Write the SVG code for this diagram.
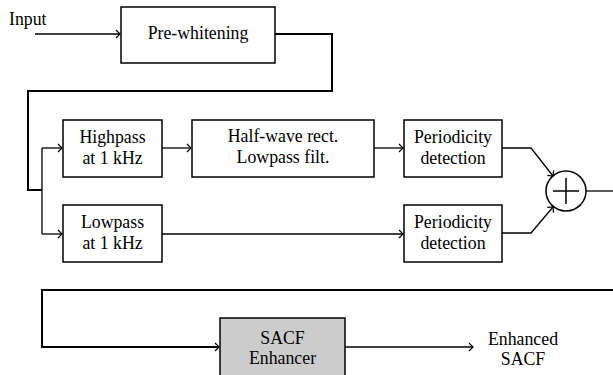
<svg xmlns="http://www.w3.org/2000/svg" width="613" height="375" viewBox="0 0 613 375">
<style>
.box{fill:#fff;stroke:#000;stroke-width:1.5}
.grey{fill:#cccccc}
.t{font-size:17.8px;fill:#000;text-anchor:middle}
.c{fill:none;stroke:#000;stroke-width:1.3}
.thick{stroke-width:2}
</style>
<defs>
<marker id="arr" markerUnits="userSpaceOnUse" markerWidth="12" markerHeight="12" viewBox="-6 -6 12 12" refX="0" refY="0" orient="auto">
<path d="M-4,-4 L0,0 L-4,4" fill="none" stroke="#000" stroke-width="1.2"/>
</marker>
</defs>
<g font-family="'Liberation Serif', 'Times New Roman', serif">
<text class="t" x="9" y="25" style="text-anchor:start">Input</text>
<g id="prewhitening"><rect class="box" x="121" y="7" width="154" height="56"/><text class="t" x="198" y="39">Pre-whitening</text></g>
<g id="highpass"><rect class="box" x="63" y="120" width="99" height="57"/><text class="t" x="112.5" y="143">Highpass</text><text class="t" x="112.5" y="164">at 1 kHz</text></g>
<g id="halfwave"><rect class="box" x="192" y="120" width="182" height="57"/><text class="t" x="283" y="142">Half-wave rect.</text><text class="t" x="283" y="163">Lowpass filt.</text></g>
<g id="period1"><rect class="box" x="404" y="120" width="98" height="57"/><text class="t" x="453" y="143">Periodicity</text><text class="t" x="453" y="164">detection</text></g>
<g id="lowpass"><rect class="box" x="63" y="205" width="99" height="57"/><text class="t" x="112.5" y="228">Lowpass</text><text class="t" x="112.5" y="249">at 1 kHz</text></g>
<g id="period2"><rect class="box" x="404" y="205" width="98" height="57"/><text class="t" x="453" y="228">Periodicity</text><text class="t" x="453" y="249">detection</text></g>
<g id="sum"><circle cx="566" cy="191" r="20" fill="#fff" stroke="#000" stroke-width="1.5"/><path d="M553,191 H579 M566,178 V204" stroke="#000" stroke-width="1.5"/></g>
<g id="enhancer"><rect class="box grey" x="220" y="318" width="125" height="60"/><text class="t" x="282.5" y="344">SACF</text><text class="t" x="282.5" y="364">Enhancer</text></g>
<g id="output"><text class="t" x="523" y="345">Enhanced</text><text class="t" x="523" y="365">SACF</text></g>
</g>
<g id="connectors">
<path class="c" d="M35,34 H120" marker-end="url(#arr)"/>
<path class="c thick" d="M275,34 H332 V91 H28 V190 H42"/>
<path class="c" d="M42,148 V234"/>
<path class="c" d="M42,148 H62" marker-end="url(#arr)"/>
<path class="c" d="M42,234 H62" marker-end="url(#arr)"/>
<path class="c" d="M162,148 H191" marker-end="url(#arr)"/>
<path class="c" d="M374,148 H403" marker-end="url(#arr)"/>
<path class="c" d="M162,234 H403" marker-end="url(#arr)"/>
<path class="c" d="M502,148 H531 L553,176" marker-end="url(#arr)"/>
<path class="c" d="M502,233 H531 L553,207" marker-end="url(#arr)"/>
<path class="c" d="M586,191 H613"/>
<path class="c thick" d="M613,290 H42 V347 H219" marker-end="url(#arr)"/>
<path class="c" d="M345,347 H473" marker-end="url(#arr)"/>
</g>
</svg>
